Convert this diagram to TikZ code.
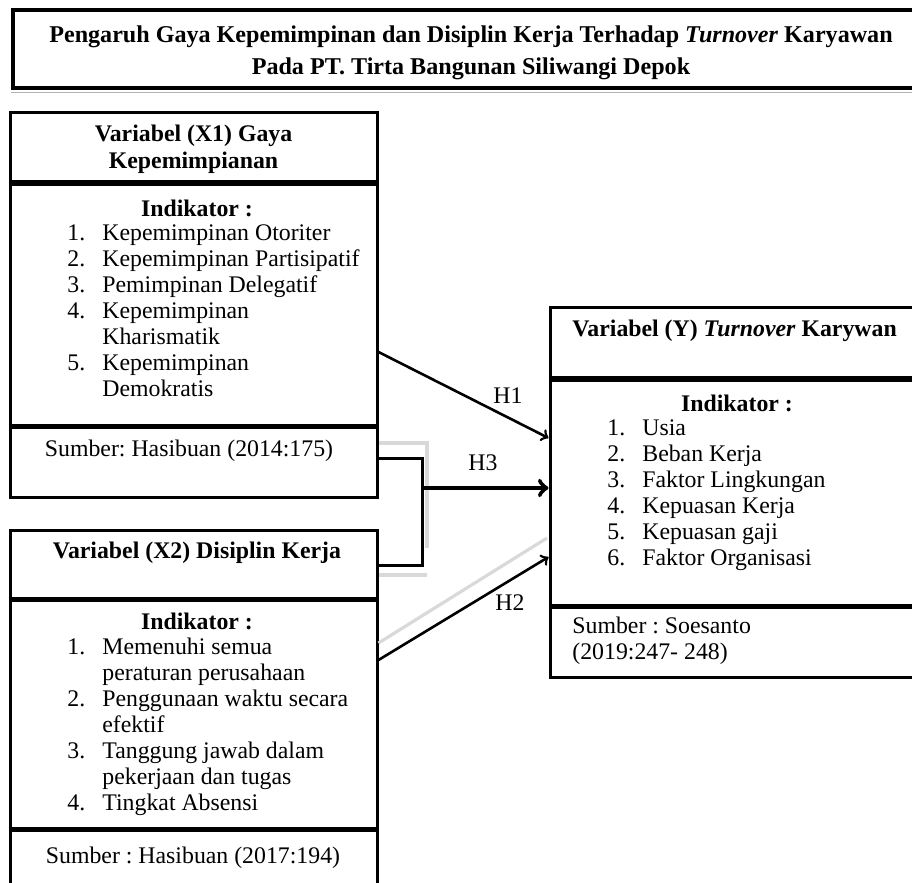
\documentclass[tikz,border=0pt]{standalone}
\usepackage{fontspec}
\setmainfont{Liberation Serif}
\frenchspacing
\begin{document}
\begin{tikzpicture}[x=0.5pt, y=-0.5pt,
	box/.style={rectangle, draw, line width=1.5pt, inner sep=0pt, minimum width=183.5pt},
	ybox/.style={rectangle, draw, line width=1.5pt, inner sep=0pt, minimum width=190pt},
	sep/.style={line width=2.4pt},
	txt/.style={font=\fontsize{11.9}{13}\selectfont, inner sep=0pt, align=left},
	bold/.style={font=\fontsize{11.9}{13.5}\selectfont\bfseries, inner sep=0pt, align=center},
	hyp/.style={line width=1.3pt, ->},
	shade/.style={gray!30, line width=1.6pt}]
	\clip (0,0) rectangle (912,883);

	% judul
	\node[rectangle, draw, line width=2pt, minimum width=461pt, minimum height=39pt](judul) at (474,49){};
	\draw[gray!60, line width=0.8pt]([yshift=-1.2pt]judul.south west) -- ([yshift=-1.2pt]judul.south east);
	\node[font=\fontsize{12.05}{16}\selectfont\bfseries, align=center, inner sep=0pt](judulTxt) at (471,53){Pengaruh Gaya Kepemimpinan dan Disiplin Kerja Terhadap \textit{Turnover} Karyawan\\Pada PT. Tirta Bangunan Siliwangi Depok};

	% variabel X1
	\node[box, minimum height=34.5pt](x1Head) at (193.5,147.5){};
	\node[box, minimum height=121.5pt](x1Ind) at (193.5,303.5){};
	\node[box, minimum height=36pt](x1Src) at (193.5,461){};
	\draw[sep](x1Head.south west) -- (x1Head.south east);
	\draw[sep](x1Ind.south west) -- (x1Ind.south east);
	\node[bold](x1Title) at (193.5,149){Variabel (X1) Gaya\\Kepemimpianan};
	\node[bold](x1IndTxt) at (197,208){Indikator :};
	\node[txt, anchor=north west](x1List) at (67,224){\makebox[17.5pt][l]{1.}Kepemimpinan Otoriter\\
		\makebox[17.5pt][l]{2.}Kepemimpinan Partisipatif\\
		\makebox[17.5pt][l]{3.}Pemimpinan Delegatif\\
		\makebox[17.5pt][l]{4.}Kepemimpinan\\
		\hspace*{17.5pt}Kharismatik\\
		\makebox[17.5pt][l]{5.}Kepemimpinan\\
		\hspace*{17.5pt}Demokratis};
	\node[txt](x1SrcTxt) at (189,451){Sumber: Hasibuan (2014:175)};

	% variabel X2
	\node[box, minimum height=34pt](x2Head) at (193.5,564){};
	\node[box, minimum height=115pt](x2Ind) at (193.5,713){};
	\node[box, minimum height=36pt](x2Src) at (193.5,864){};
	\draw[sep](x2Head.south west) -- (x2Head.south east);
	\draw[sep](x2Ind.south west) -- (x2Ind.south east);
	\node[bold](x2Title) at (197,553){Variabel (X2) Disiplin Kerja};
	\node[bold](x2IndTxt) at (197,621){Indikator :};
	\node[txt, anchor=north west](x2List) at (67,638){\makebox[17.5pt][l]{1.}Memenuhi semua\\
		\hspace*{17.5pt}peraturan perusahaan\\
		\makebox[17.5pt][l]{2.}Penggunaan waktu secara\\
		\hspace*{17.5pt}efektif\\
		\makebox[17.5pt][l]{3.}Tanggung jawab dalam\\
		\hspace*{17.5pt}pekerjaan dan tugas\\
		\makebox[17.5pt][l]{4.}Tingkat Absensi};
	\node[txt](x2SrcTxt) at (193,858){Sumber : Hasibuan (2017:194)};

	% variabel Y
	\node[ybox, minimum height=35pt](yHead) at (740,343){};
	\node[ybox, minimum height=113.5pt](yInd) at (740,491.5){};
	\node[ybox, minimum height=36pt](ySrc) at (740,641){};
	\draw[sep](yHead.south west) -- (yHead.south east);
	\draw[sep](yInd.south west) -- (yInd.south east);
	\node[bold, anchor=west](yTitle) at (572,331){Variabel (Y) \textit{Turnover} Karywan};
	\node[bold](yIndTxt) at (737,403){Indikator :};
	\node[txt, anchor=north west](yList) at (607,419){\makebox[17.5pt][l]{1.}Usia\\
		\makebox[17.5pt][l]{2.}Beban Kerja\\
		\makebox[17.5pt][l]{3.}Faktor Lingkungan\\
		\makebox[17.5pt][l]{4.}Kepuasan Kerja\\
		\makebox[17.5pt][l]{5.}Kepuasan gaji\\
		\makebox[17.5pt][l]{6.}Faktor Organisasi};
	\node[txt, anchor=north west](ySrcTxt) at (572,617){Sumber : Soesanto\\(2019:247- 248)};

	% bayangan
	\coordinate(shTop) at (427,443);
	\coordinate(shBot) at (427,575);
	\coordinate(shArr) at (547,538);
	\draw[shade](x1Src.east |- shTop) -- (shTop) -- (427,548);
	\draw[shade](x2Head.east |- shBot) -- (shBot);
	\draw[shade](x2Ind.east |- 0,643) -- (shArr);

	% hipotesis
	\coordinate(h3Top) at (422,458);
	\coordinate(h3Bot) at (422,565);
	\coordinate(h3Mid) at (422,488);
	\draw[line width=1.5pt](x1Src.east |- h3Top) -- (h3Top) -- (h3Bot) -- (x2Head.east |- h3Bot);
	\draw[line width=2.2pt, ->](h3Mid) -- (yInd.west |- h3Mid);
	\draw[hyp](x1Ind.east |- 0,352) -- (yInd.west |- 0,438);
	\draw[hyp](x2Ind.east |- 0,660) -- (yInd.west |- 0,557);
	\node[txt](h1) at (508,396){H1};
	\node[txt](h3) at (483,463){H3};
	\node[txt](h2) at (510,603){H2};
\end{tikzpicture}
\end{document}
